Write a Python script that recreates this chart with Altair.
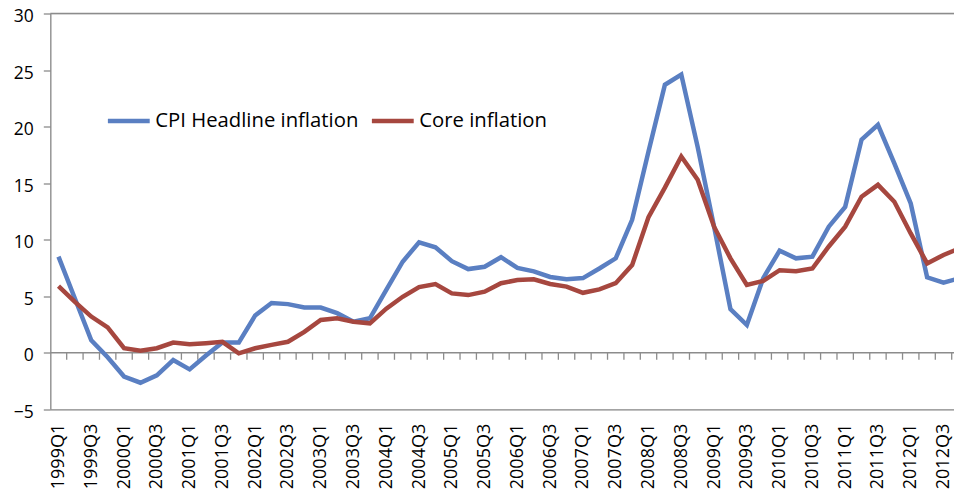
import altair as alt
import pandas as pd

quarters = [f"{y}Q{q}" for y in range(1999, 2013) for q in range(1, 5)]

cpi = [8.5, 4.8, 1.1, -0.4, -2.1, -2.65, -2.0, -0.65, -1.47, -0.25,
       0.9, 0.9, 3.3, 4.4, 4.3, 4.0, 4.0, 3.5, 2.75, 3.05,
       5.55, 8.05, 9.77, 9.33, 8.1, 7.4, 7.6, 8.45, 7.5, 7.2,
       6.7, 6.5, 6.6, 7.45, 8.35, 11.75, 17.8, 23.7, 24.6, 18.2,
       11.15, 3.85, 2.45, 6.6, 9.03, 8.35, 8.5, 11.15, 12.9, 18.85,
       20.15, 16.75, 13.2, 6.67, 6.2, 6.6]

core = [5.9, 4.5, 3.2, 2.25, 0.4, 0.18, 0.4, 0.9, 0.75, 0.85,
        0.97, -0.05, 0.4, 0.7, 0.97, 1.85, 2.9, 3.05, 2.75, 2.6,
        3.9, 4.95, 5.8, 6.08, 5.25, 5.1, 5.4, 6.15, 6.43, 6.5,
        6.08, 5.85, 5.3, 5.6, 6.15, 7.75, 12.0, 14.6, 17.35, 15.3,
        11.15, 8.35, 6.0, 6.35, 7.3, 7.2, 7.45, 9.4, 11.15, 13.8,
        14.85, 13.35, 10.55, 7.9, 8.65, 9.25]

series_names = ["CPI Headline inflation", "Core inflation"]
series_colors = ["#5a7fc2", "#a6473f"]

rows = []
for i, q in enumerate(quarters):
    rows.append({"idx": i, "quarter": q, "series": series_names[0], "value": cpi[i]})
    rows.append({"idx": i, "quarter": q, "series": series_names[1], "value": core[i]})
df = pd.DataFrame(rows)

bounds = pd.DataFrame({"b": [i + 0.5 for i in range(len(quarters) - 1)]})

FONT = "Open Sans"
GRAY = "#8c8c8c"

label_array = "[" + ",".join(f"'{q}'" for q in quarters) + "]"

x_scale = alt.Scale(domain=[-0.5, 54.64], nice=False, zero=False)
y_scale = alt.Scale(domain=[-5, 30], nice=False, zero=False)

x_axis = alt.Axis(
    title=None, values=list(range(0, len(quarters), 2)), labelExpr=label_array + "[datum.value]",
    labelAngle=-90, labelFont=FONT, labelFontSize=18, labelColor="#000000",
    labelPadding=14, ticks=False, grid=False, domain=True, domainColor=GRAY,
    domainWidth=1.3, labelOverlap=False, labelFlush=False,
)
y_axis = alt.Axis(
    title=None, values=list(range(-5, 31, 5)), labelFont=FONT, labelFontSize=17.5,
    labelColor="#000000", labelPadding=10, labelOffset=3, tickSize=7, tickColor=GRAY,
    tickWidth=1.3, domainColor=GRAY, domainWidth=1.3, grid=False,
)

lines = alt.Chart(df).mark_line(strokeWidth=4.5, clip=True).encode(
    x=alt.X("idx:Q", scale=x_scale, axis=x_axis),
    y=alt.Y("value:Q", scale=y_scale, axis=y_axis),
    color=alt.Color(
        "series:N",
        scale=alt.Scale(domain=series_names, range=series_colors),
        sort=series_names,
        legend=alt.Legend(
            title=None, orient="none", legendX=55, legendY=84, direction="horizontal",
            symbolType="stroke", symbolStrokeWidth=4.5, symbolSize=1750,
            labelFont=FONT, labelFontSize=20.3, labelColor="#000000",
            labelOffset=3, columnPadding=3, labelLimit=400,
        ),
    ),
    detail="series:N",
)

top_rule = alt.Chart(pd.DataFrame({"v": [30]})).mark_rule(color=GRAY, strokeWidth=1.3).encode(
    y=alt.Y("v:Q", scale=y_scale, axis=y_axis)
)
zero_rule = alt.Chart(pd.DataFrame({"v": [0]})).mark_rule(color=GRAY, strokeWidth=1.3).encode(
    y=alt.Y("v:Q", scale=y_scale, axis=y_axis)
)
zero_ticks = alt.Chart(bounds).mark_rule(color=GRAY, strokeWidth=1.3).encode(
    x=alt.X("b:Q", scale=x_scale, axis=x_axis),
    y=alt.Y("y0:Q", scale=y_scale, axis=y_axis),
    y2="y1:Q",
).transform_calculate(y0="0", y1="-0.62")

chart = alt.layer(top_rule, zero_rule, zero_ticks, lines).properties(
    width=903.7, height=395.8,
    autosize=alt.AutoSizeParams(type="none"),
    padding={"left": 42.3, "top": 5.5, "right": 0, "bottom": 82},
).configure_view(stroke=None).configure(background="white")

chart.save("out.html", embed_options={"renderer": "svg", "actions": False})
